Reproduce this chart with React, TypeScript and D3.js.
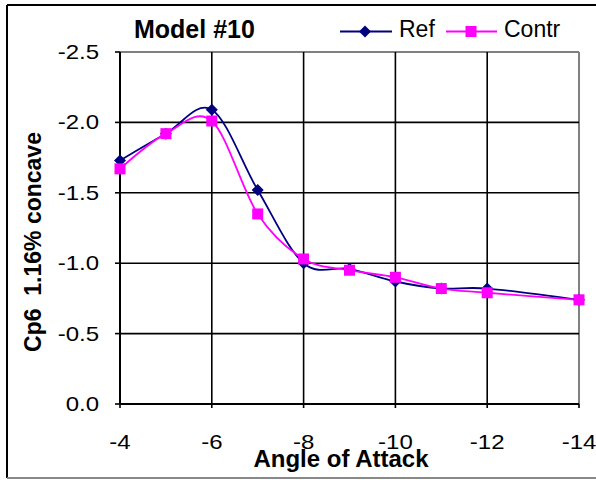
import React from 'react';
import * as d3 from 'd3';

// chart data
const angles = [-4, -5, -6, -7, -8, -9, -10, -11, -12, -14];
const refValues = [-1.73, -1.92, -2.09, -1.52, -1.0, -0.96, -0.87, -0.82, -0.82, -0.74];
const contrValues = [-1.67, -1.92, -2.01, -1.35, -1.03, -0.95, -0.9, -0.82, -0.79, -0.74];
const xTicks = [-4, -6, -8, -10, -12, -14];
const yTicks = [0, -0.5, -1.0, -1.5, -2.0, -2.5];

const FONT = '"Liberation Sans", Arial, sans-serif';
const NAVY = '#000080';
const MAGENTA = '#ff00ff';

// Excel-style labels use a plain hyphen, not the unicode minus
const hy = (s: string) => s.replace('\u2212', '-');

export default function App() {
  const W = 596, H = 480;
  const x = d3.scaleLinear().domain([-4, -14]).range([120, 579]);
  const y = d3.scaleLinear().domain([0, -2.5]).range([404, 52]);
  const fmt = d3.format('.1f');

  const line = d3.line<number>()
    .x((_, i) => x(angles[i]))
    .y(d => y(d))
    .curve(d3.curveCardinal.tension(0));

  const diamond = (cx: number, cy: number, r = 6) =>
    `M${cx},${cy - r}L${cx + r},${cy}L${cx},${cy + r}L${cx - r},${cy}Z`;

  return (
    <svg width={W} height={H} style={{ position: 'absolute', left: 0, top: 0 }}>
      <rect width={W} height={H} fill="#fff" />
      {/* outer frame */}
      <line x1={7} y1={5} x2={W} y2={5} stroke="#000" strokeWidth={2} />
      <line x1={7} y1={5} x2={7} y2={478} stroke="#000" strokeWidth={2} />
      <line x1={7} y1={478} x2={W} y2={478} stroke="#888" strokeWidth={2} />

      {/* plot border (gray top/right) */}
      <line x1={x(-4)} y1={y(-2.5)} x2={x(-14)} y2={y(-2.5)} stroke="#808080" strokeWidth={2} />
      <line x1={x(-14)} y1={y(-2.5)} x2={x(-14)} y2={y(0)} stroke="#808080" strokeWidth={2} />

      {/* grid */}
      {yTicks.slice(1, -1).map(t => (
        <line key={'gy' + t} x1={x(-4)} x2={x(-14)} y1={y(t)} y2={y(t)} stroke="#000" strokeWidth={1.6} />
      ))}
      {xTicks.slice(1, -1).map(t => (
        <line key={'gx' + t} x1={x(t)} x2={x(t)} y1={y(-2.5)} y2={y(0) + 4} stroke="#000" strokeWidth={1.6} />
      ))}

      {/* axes */}
      <line x1={x(-4)} x2={x(-4)} y1={y(-2.5)} y2={y(0)} stroke="#000" strokeWidth={2} />
      <line x1={x(-4)} x2={x(-14)} y1={y(0)} y2={y(0)} stroke="#000" strokeWidth={2} />
      {yTicks.map(t => (
        <line key={'ty' + t} x1={x(-4) - 5} x2={x(-4)} y1={y(t)} y2={y(t)} stroke="#000" strokeWidth={1.6} />
      ))}
      {[xTicks[0], xTicks[xTicks.length - 1]].map(t => (
        <line key={'tx' + t} x1={x(t)} x2={x(t)} y1={y(0)} y2={y(0) + 4} stroke="#000" strokeWidth={1.6} />
      ))}

      {/* tick labels */}
      {yTicks.map(t => (
        <text key={'ly' + t} transform={`translate(99,${y(t) + 7}) scale(1.2,1)`}
          textAnchor="end" fontFamily={FONT} fontSize={20} fill="#000">{hy(fmt(t))}</text>
      ))}
      {xTicks.map(t => (
        <text key={'lx' + t} transform={`translate(${x(t)},449) scale(1.2,1)`}
          textAnchor="middle" fontFamily={FONT} fontSize={20} fill="#000">{String(t)}</text>
      ))}

      {/* series lines */}
      <path d={line(refValues) || ''} fill="none" stroke={NAVY} strokeWidth={1.8} />
      <path d={line(contrValues) || ''} fill="none" stroke={MAGENTA} strokeWidth={1.8} />
      {refValues.map((v, i) => (
        <path key={'r' + i} d={diamond(x(angles[i]), y(v))} fill={NAVY} />
      ))}
      {contrValues.map((v, i) => (
        <rect key={'c' + i} x={x(angles[i]) - 5.5} y={y(v) - 5.5} width={11} height={11} fill={MAGENTA} />
      ))}

      {/* titles */}
      <text x={134} y={38} fontFamily={FONT} fontSize={25} fontWeight="bold">Model #10</text>
      <text x={341} y={467} textAnchor="middle" fontFamily={FONT} fontSize={24} fontWeight="bold">Angle of Attack</text>
      <text transform="translate(41,242) rotate(-90)" textAnchor="middle" fontFamily={FONT}
        fontSize={23} fontWeight="bold" xmlSpace="preserve">Cp6  1.16% concave</text>

      {/* legend */}
      <line x1={340} x2={392} y1={31.5} y2={31.5} stroke={NAVY} strokeWidth={1.8} />
      <path d={diamond(365, 31.5)} fill={NAVY} />
      <text x={399} y={37} fontFamily={FONT} fontSize={23}>Ref</text>
      <line x1={446} x2={497} y1={31.5} y2={31.5} stroke={MAGENTA} strokeWidth={1.8} />
      <rect x={465.5} y={26} width={11} height={11} fill={MAGENTA} />
      <text x={504} y={37} fontFamily={FONT} fontSize={23}>Contr</text>
    </svg>
  );
}
